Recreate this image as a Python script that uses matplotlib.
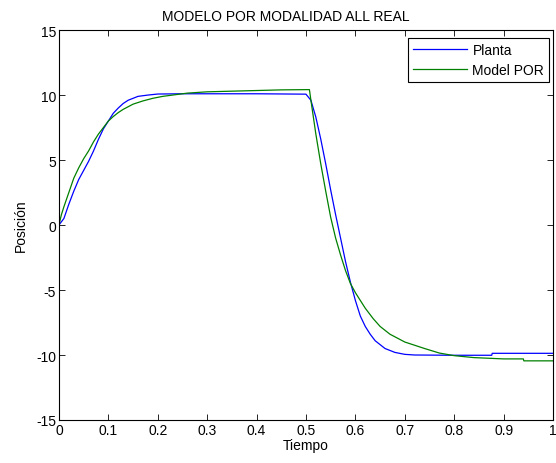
import matplotlib
matplotlib.use('Agg')
import matplotlib.pyplot as plt
import numpy as np

plt.rcParams['font.family'] = ['Liberation Sans', 'DejaVu Sans']
plt.rcParams['axes.unicode_minus'] = False

# valores
t_planta = [0.0, 0.01, 0.02, 0.03, 0.04, 0.05, 0.06, 0.07, 0.08, 0.09, 0.10,
            0.11, 0.12, 0.13, 0.14, 0.15, 0.16, 0.18, 0.20, 0.25, 0.30, 0.40,
            0.50, 0.51, 0.52, 0.53, 0.54, 0.55, 0.56, 0.57, 0.58, 0.59, 0.60,
            0.61, 0.62, 0.63, 0.64, 0.65, 0.66, 0.68, 0.70, 0.72, 0.80,
            0.876, 0.877, 1.0]
y_planta = [0.0, 0.5, 1.6, 2.6, 3.5, 4.2, 4.9, 5.7, 6.6, 7.4, 8.0,
            8.6, 9.0, 9.35, 9.6, 9.75, 9.9, 10.0, 10.08, 10.1, 10.1, 10.1,
            10.07, 9.6, 8.3, 6.6, 4.7, 2.7, 0.8, -1.0, -2.8, -4.4, -5.8,
            -7.0, -7.8, -8.4, -8.9, -9.2, -9.5, -9.8, -9.95, -10.0, -10.02,
            -10.02, -9.87, -9.87]

t_model = [0.0, 0.005, 0.01, 0.02, 0.03, 0.04, 0.05, 0.06, 0.07, 0.08, 0.09,
           0.10, 0.11, 0.12, 0.13, 0.15, 0.17, 0.19, 0.21, 0.23, 0.26, 0.30,
           0.35, 0.40, 0.45, 0.507, 0.51, 0.52, 0.53, 0.54, 0.55, 0.56, 0.57,
           0.58, 0.59, 0.60, 0.61, 0.62, 0.636, 0.65, 0.67, 0.70, 0.74, 0.77,
           0.80, 0.84, 0.90, 0.94, 0.941, 1.0]
y_model = [0.0, 0.8, 1.4, 2.5, 3.6, 4.4, 5.1, 5.7, 6.4, 7.0, 7.5,
           8.0, 8.35, 8.65, 8.9, 9.3, 9.55, 9.75, 9.9, 10.0, 10.15, 10.25,
           10.3, 10.35, 10.4, 10.42, 9.6, 7.0, 4.7, 2.6, 0.6, -1.0, -2.3,
           -3.5, -4.5, -5.2, -5.8, -6.4, -7.2, -7.8, -8.4, -9.0, -9.5, -9.85,
           -10.05, -10.2, -10.3, -10.3, -10.45, -10.45]

fig = plt.figure(figsize=(5.56, 4.64), dpi=100)
ax = fig.add_axes([0.106, 0.0927, 0.8886, 0.8403])

ax.plot(t_planta, y_planta, color='#0000ff', linewidth=0.9, label='Planta')
ax.plot(t_model, y_model, color='#008000', linewidth=0.9, label='Model POR')

ax.set_xlim(0, 1)
ax.set_ylim(-15, 15)
ax.set_xticks(np.arange(0, 1.01, 0.1))
ax.set_xticklabels(['0', '0.1', '0.2', '0.3', '0.4', '0.5', '0.6', '0.7', '0.8', '0.9', '1'])
ax.set_yticks([-15, -10, -5, 0, 5, 10, 15])
ax.tick_params(direction='in', top=True, right=True, labelsize=10, length=4, width=0.6, pad=2)
for s in ax.spines.values():
    s.set_linewidth(0.8)

ax.set_title('MODELO POR MODALIDAD ALL REAL', fontsize=10, pad=7, x=0.46)
ax.set_xlabel('Tiempo', fontsize=10, labelpad=1)
ax.set_ylabel('Posición', fontsize=10, labelpad=6)

leg = ax.legend(loc='upper right', bbox_to_anchor=(0.992, 0.9795), fontsize=10,
                fancybox=False, framealpha=1, edgecolor='black', borderaxespad=0,
                handlelength=3.9, handletextpad=0.4, labelspacing=0.45,
                borderpad=0.35)
leg.get_frame().set_linewidth(0.8)

fig.savefig('out.png', dpi=100)
